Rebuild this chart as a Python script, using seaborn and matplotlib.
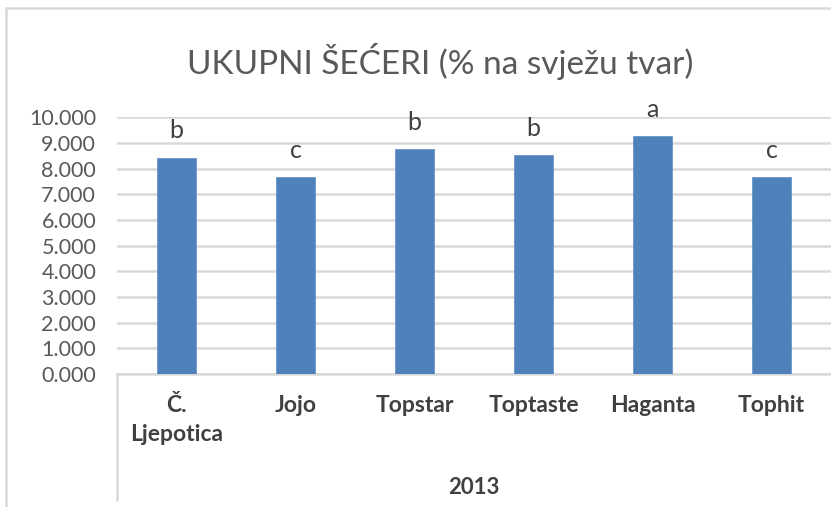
import matplotlib
matplotlib.use("Agg")
import matplotlib.pyplot as plt
from matplotlib.lines import Line2D
from matplotlib.patches import Rectangle
import seaborn as sns
import pandas as pd

# Data
cultivars = ["Č.\nLjepotica", "Jojo", "Topstar", "Toptaste", "Haganta", "Tophit"]
sugars = [8.43, 7.66, 8.77, 8.54, 9.28, 7.66]
letters = ["b", "c", "b", "b", "a", "c"]
year = "2013"
title = "UKUPNI ŠEĆERI (% na svježu tvar)"
yticks = [0, 1, 2, 3, 4, 5, 6, 7, 8, 9, 10]

df = pd.DataFrame({"cultivar": cultivars, "sugar": sugars})

sns.set_theme(style="white")
plt.rcParams["font.family"] = ["Lato", "DejaVu Sans"]

W, H = 831, 507
fig = plt.figure(figsize=(W / 100, H / 100), dpi=100)
ax = fig.add_axes([117 / W, 1 - 374 / H, (W - 117) / W, (374 - 117.3) / H])

sns.barplot(data=df, x="cultivar", y="sugar", color="#4F81BD", width=0.32,
            saturation=1, edgecolor="#6A94C8", linewidth=0.6, ax=ax, zorder=3)

ax.set_ylim(0, 10)
ax.set_xlim(-0.5, len(cultivars) - 0.5)
ax.set_yticks(yticks)
ax.set_yticklabels([f"{v:.3f}" for v in yticks])
ax.yaxis.grid(True, color="#D9D9D9", linewidth=1.8, zorder=0)
ax.set_axisbelow(True)
for s in ["top", "right", "left"]:
    ax.spines[s].set_visible(False)
ax.spines["bottom"].set_color("#D9D9D9")
ax.spines["bottom"].set_linewidth(1.8)
ax.set_xlabel("")
ax.set_ylabel("")
ax.tick_params(axis="y", length=0, pad=15, labelsize=15.5, labelcolor="#595959")
ax.tick_params(axis="x", length=0, pad=15, labelsize=16.5, labelcolor="#404040")
for lab in ax.get_xticklabels():
    lab.set_fontweight("bold")
    lab.set_verticalalignment("top")
    lab.set_linespacing(1.5)

# significance letters above bars
for i, (v, t) in enumerate(zip(sugars, letters)):
    ax.annotate(t, (i, v), xytext=(0, 11), textcoords="offset points",
                ha="center", va="bottom", fontsize=18, color="#404040")

# chart title
fig.text(0.5 * (190 + 690) / W, 1 - 62 / H, title, ha="center", va="center",
         fontsize=24, color="#595959", fontweight="normal")

# group label under the categories
fig.text((117 + W) / 2 / W, 1 - 487 / H, year, ha="center", va="center",
         fontsize=16, fontweight="bold", color="#404040")

# category-axis separator and chart frame
fig.add_artist(Line2D([117 / W, 117 / W], [1 - 374 / H, 1 - 500 / H],
                      color="#D9D9D9", linewidth=1.8, transform=fig.transFigure))
fig.add_artist(Rectangle((6 / W, -0.05), 1.2, 1 - 8 / H + 0.05, fill=False,
                         edgecolor="#D9D9D9", linewidth=1.8,
                         transform=fig.transFigure))

fig.savefig("out.png", dpi=100)
